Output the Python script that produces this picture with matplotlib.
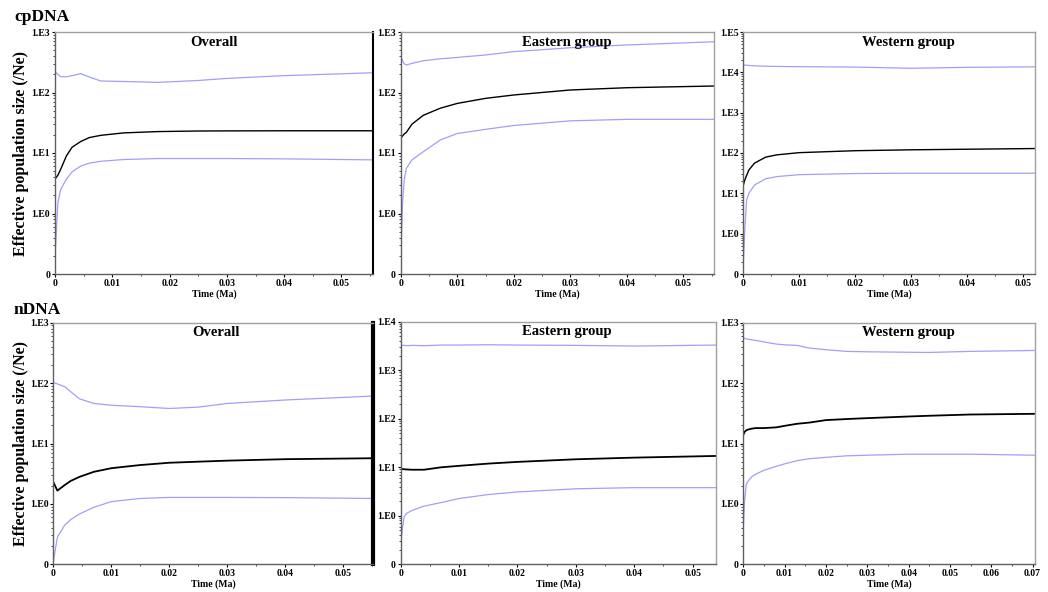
import matplotlib
matplotlib.use("Agg")
import matplotlib.pyplot as plt
from matplotlib.ticker import FixedLocator, MultipleLocator, LogLocator, NullFormatter

plt.rcParams['font.family'] = ['Liberation Serif', 'DejaVu Serif']
plt.rcParams['font.weight'] = 'bold'

# ---- data (time in Ma, Ne) ----
# cpDNA overall
t1 = [0, 0.0005, 0.001, 0.002, 0.003, 0.0045, 0.006, 0.008, 0.012, 0.018, 0.025, 0.03, 0.04, 0.0555]
up1 = [221, 200, 183, 182, 190, 205, 180, 155, 152, 147, 158, 171, 190, 212]
med1 = [3.7, 4.3, 5.4, 9.0, 12.5, 15.5, 18, 19.6, 21.5, 22.6, 23.1, 23.2, 23.3, 23.3]
low1 = [0.19, 1.5, 2.5, 3.7, 4.9, 6.1, 6.8, 7.3, 7.8, 8.1, 8.1, 8.1, 8.0, 7.7]

# cpDNA eastern
t2 = [0, 0.0003, 0.0006, 0.001, 0.002, 0.004, 0.007, 0.01, 0.015, 0.02, 0.03, 0.04, 0.0554]
up2 = [390, 340, 300, 285, 303, 335, 360, 380, 417, 473, 550, 610, 690]
med2 = [17.5, 19, 20.5, 22, 30, 42, 55, 66, 80, 91, 110, 120, 128]
low2 = [0.15, 1.3, 3.5, 5.6, 7.7, 10.5, 16.4, 21, 24.6, 28.5, 34, 36, 36]

# cpDNA western
t3 = [0, 0.0003, 0.0006, 0.001, 0.002, 0.004, 0.006, 0.01, 0.02, 0.03, 0.04, 0.0522]
up3 = [15300, 15200, 15000, 14800, 14500, 14200, 14000, 13800, 13500, 12600, 13300, 13700]
med3 = [16, 22, 28, 38, 56, 79, 90, 102, 114, 120, 124, 129]
low3 = [0.19, 1.5, 6.9, 10, 16, 23, 26, 29, 31, 31.5, 31.5, 31.5]

# nDNA overall
t4 = [0, 0.0007, 0.002, 0.003, 0.0045, 0.007, 0.01, 0.015, 0.02, 0.025, 0.03, 0.04, 0.0551]
up4 = [102, 97, 87, 72, 55, 46, 43, 40.7, 38, 40, 46, 52.5, 61]
med4 = [2.3, 1.66, 2.06, 2.4, 2.8, 3.4, 3.9, 4.4, 4.8, 5.0, 5.2, 5.5, 5.7]
low4 = [0.11, 0.28, 0.45, 0.55, 0.68, 0.88, 1.09, 1.23, 1.28, 1.28, 1.28, 1.27, 1.23]

# nDNA eastern
t5 = [0, 0.0003, 0.0006, 0.001, 0.002, 0.004, 0.007, 0.01, 0.015, 0.02, 0.03, 0.04, 0.054]
up5 = [3300, 3250, 3250, 3200, 3250, 3200, 3300, 3300, 3350, 3300, 3250, 3150, 3300]
med5 = [9.3, 9.2, 9.1, 9.0, 8.9, 8.9, 10.0, 10.7, 11.9, 12.9, 14.6, 15.8, 17.1]
low5 = [0.27, 0.55, 0.96, 1.12, 1.3, 1.58, 1.88, 2.27, 2.74, 3.1, 3.6, 3.8, 3.8]

# nDNA western
t6 = [0, 0.0003, 0.0007, 0.001, 0.002, 0.003, 0.005, 0.008, 0.01, 0.013, 0.016, 0.02,
      0.025, 0.03, 0.04, 0.045, 0.055, 0.0706]
up6 = [557, 550, 540, 535, 520, 510, 480, 443, 430, 421, 380, 357, 335, 330, 324, 322, 335, 347]
med6 = [13.9, 15.5, 16.5, 16.9, 17.6, 18, 18, 18.5, 19.6, 21.2, 22.2, 24.4, 25.4, 26.3, 28,
        28.8, 30.2, 31]
low6 = [0.4, 1.1, 2.07, 2.3, 2.8, 3.1, 3.6, 4.2, 4.6, 5.2, 5.6, 5.9, 6.25, 6.4, 6.65, 6.65,
        6.65, 6.4]

titles = ['Overall', 'Eastern group', 'Western group',
          'Overall', 'Eastern group', 'Western group']
top_decade = [3, 3, 5, 3, 4, 3]
xmax = [0.0555, 0.0554, 0.0522, 0.0551, 0.054, 0.0706]

W, H = 1048, 592
# axes boxes in pixels: left, right, top, bottom
boxes = [(55, 373, 32, 274), (400.7, 714, 32, 274), (743.3, 1035, 32, 274),
         (53.3, 372.7, 322.7, 564.3), (400.7, 716, 321.7, 564.3), (743.3, 1035, 322.7, 564.3)]
title_x = [0.5, 0.53, 0.565, 0.508, 0.526, 0.565]

BLUE = '#a0a0fa'
GREY = '#a0a0a0'

fig = plt.figure(figsize=(W / 100, H / 100), dpi=100)

data = [(t1, up1, med1, low1), (t2, up2, med2, low2), (t3, up3, med3, low3),
        (t4, up4, med4, low4), (t5, up5, med5, low5), (t6, up6, med6, low6)]

for i, (t, up, med, low) in enumerate(data):
    l, r, tp, b = boxes[i]
    ax = fig.add_axes([l / W, 1 - b / H, (r - l) / W, (b - tp) / H])
    ax.plot(t, up, color=BLUE, lw=0.9)
    ax.plot(t, low, color=BLUE, lw=0.9)
    ax.plot(t, med, color='black', lw=1.3 if i >= 3 else 1.0)
    ax.set_yscale('log')
    ax.set_ylim(0.1, 10 ** top_decade[i])
    ax.set_xlim(0, xmax[i])

    decs = [10.0 ** k for k in range(-1, top_decade[i] + 1)]
    ax.yaxis.set_major_locator(FixedLocator(decs))
    ax.set_yticklabels(['0'] + ['1.E%d' % k for k in range(0, top_decade[i] + 1)])
    ax.yaxis.set_minor_locator(LogLocator(base=10, subs=range(2, 10), numticks=20))
    ax.yaxis.set_minor_formatter(NullFormatter())
    ax.xaxis.set_major_locator(MultipleLocator(0.01))
    ax.xaxis.set_minor_locator(MultipleLocator(0.005))
    ax.set_xticklabels([('0' if abs(v) < 1e-9 else '%.2f' % v) for v in ax.get_xticks()])
    ax.set_xlim(0, xmax[i])

    ax.tick_params(axis='both', which='major', labelsize=7, length=2.5, width=0.8,
                   pad=1, colors='black')
    ax.tick_params(axis='both', which='minor', length=1.5, width=0.5)
    for lab in ax.get_xticklabels() + ax.get_yticklabels():
        lab.set_fontweight('bold')

    for side in ['left', 'bottom', 'top', 'right']:
        ax.spines[side].set_color(GREY)
        ax.spines[side].set_linewidth(1.0)
    ax.spines['left'].set_color('#606060')
    ax.spines['bottom'].set_color('#606060')
    if i == 0:
        ax.spines['right'].set_color('black')
        ax.spines['right'].set_linewidth(1.5)
    if i == 3:
        ax.spines['right'].set_color('black')
        ax.spines['right'].set_linewidth(3.0)

    ax.text(title_x[i], 0.985, titles[i], transform=ax.transAxes, ha='center', va='top',
            fontsize=10.5, fontweight='bold')
    ax.set_xlabel('Time (Ma)', fontsize=7, fontweight='bold', labelpad=1)
    if i % 3 == 0:
        ax.set_ylabel('Effective population size (/Ne)', fontsize=11.5, fontweight='bold')
        ax.yaxis.set_label_coords((29 - l) / (r - l), 0.5)

fig.text(14 / W, 1 - 17 / H, 'cpDNA', fontsize=12.5, fontweight='bold', va='center')
fig.text(14 / W, 1 - 310 / H, 'nDNA', fontsize=12.5, fontweight='bold', va='center')

fig.savefig('out.png', dpi=100)
